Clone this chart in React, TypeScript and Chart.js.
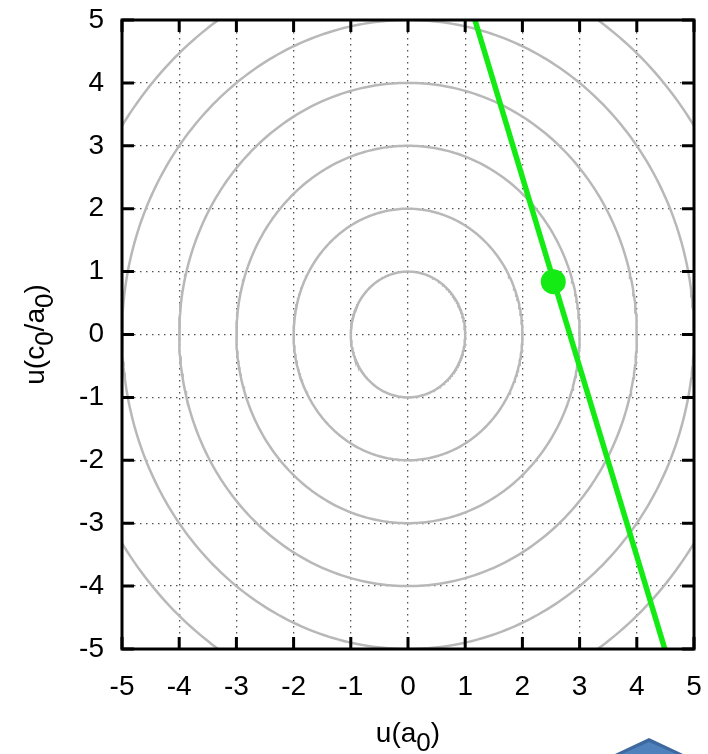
import React, { useEffect, useRef } from "react";
import { Chart, registerables } from "chart.js";

Chart.register(...registerables);

// ---- data ----
const tickValues = [-5, -4, -3, -2, -1, 0, 1, 2, 3, 4, 5];
const circleRadii = [1, 2, 3, 4, 5, 6];
const lineX = [1.17, 4.49];
const lineY = [5, -5];
const markerX = [2.54];
const markerY = [0.84];
const xTitleParts = [
  { t: "u(a", sub: false },
  { t: "0", sub: true },
  { t: ")", sub: false },
];
const yTitleParts = [
  { t: "u(c", sub: false },
  { t: "0", sub: true },
  { t: "/a", sub: false },
  { t: "0", sub: true },
  { t: ")", sub: false },
];

const FONT = "'Liberation Sans', Arial, Helvetica, sans-serif";

function circlePoints(r: number) {
  const pts: { x: number; y: number }[] = [];
  for (let i = 0; i <= 360; i += 1) {
    const t = (i * Math.PI) / 180;
    pts.push({ x: r * Math.cos(t), y: r * Math.sin(t) });
  }
  return pts;
}

function drawRich(ctx: CanvasRenderingContext2D, parts: { t: string; sub: boolean }[], cx: number, baseY: number) {
  const mainFont = `28px ${FONT}`;
  const subFont = `26px ${FONT}`;
  let total = 0;
  const widths = parts.map((p) => {
    ctx.font = p.sub ? subFont : mainFont;
    const w = ctx.measureText(p.t).width;
    total += w;
    return w;
  });
  let x = cx - total / 2;
  ctx.textAlign = "left";
  ctx.textBaseline = "alphabetic";
  ctx.fillStyle = "#000";
  parts.forEach((p, i) => {
    ctx.font = p.sub ? subFont : mainFont;
    ctx.fillText(p.t, x, p.sub ? baseY + 9 : baseY);
    x += widths[i];
  });
}

const framePlugin = {
  id: "frame",
  afterDatasetsDraw(chart: any) {
    const { ctx, chartArea, scales } = chart;
    const { left, right, top, bottom } = chartArea;
    ctx.save();
    ctx.strokeStyle = "#000";
    ctx.lineWidth = 3;
    ctx.lineCap = "butt";
    const tl = 12;
    tickValues.forEach((v) => {
      const px = scales.x.getPixelForValue(v);
      ctx.beginPath();
      ctx.moveTo(px, bottom);
      ctx.lineTo(px, bottom - tl);
      ctx.moveTo(px, top);
      ctx.lineTo(px, top + tl);
      ctx.stroke();
      const py = scales.y.getPixelForValue(v);
      ctx.beginPath();
      ctx.moveTo(left, py);
      ctx.lineTo(left + tl, py);
      ctx.moveTo(right, py);
      ctx.lineTo(right - tl, py);
      ctx.stroke();
    });
    ctx.strokeRect(left, top, right - left, bottom - top);
    ctx.restore();
  },
  afterDraw(chart: any) {
    const { ctx, chartArea } = chart;
    ctx.save();
    const cx = (chartArea.left + chartArea.right) / 2;
    drawRich(ctx, xTitleParts, cx, 742);
    ctx.translate(44, (chartArea.top + chartArea.bottom) / 2);
    ctx.rotate(-Math.PI / 2);
    drawRich(ctx, yTitleParts, 0, 0);
    ctx.restore();
  },
};

function zeroPad(s: any) {
  s.paddingTop = 0;
  s.paddingBottom = 0;
  s.paddingLeft = 0;
  s.paddingRight = 0;
}

export default function App() {
  const ref = useRef<HTMLCanvasElement | null>(null);

  useEffect(() => {
    if (!ref.current) return;
    const circleSets = circleRadii.map((r) => ({
      type: "line" as const,
      data: circlePoints(r),
      borderColor: "#b8b8b8",
      borderWidth: 2.5,
      pointRadius: 0,
      fill: false,
      tension: 0,
      order: 3,
    }));
    const chart = new Chart(ref.current, {
      type: "scatter",
      data: {
        datasets: [
          ...circleSets,
          {
            type: "line" as const,
            data: lineX.map((x, i) => ({ x, y: lineY[i] })),
            borderColor: "rgb(20,235,20)",
            borderWidth: 5.5,
            pointRadius: 0,
            fill: false,
            order: 2,
          },
          {
            type: "scatter" as const,
            data: markerX.map((x, i) => ({ x, y: markerY[i] })),
            backgroundColor: "rgb(20,235,20)",
            borderColor: "rgb(20,235,20)",
            borderWidth: 0,
            pointRadius: 12.5,
            order: 1,
          },
        ] as any,
      },
      options: {
        responsive: false,
        maintainAspectRatio: false,
        animation: false,
        layout: { padding: { top: 20, right: 14, left: 0, bottom: 0 } },
        plugins: {
          legend: { display: false },
          tooltip: { enabled: false },
        },
        scales: {
          x: {
            type: "linear",
            min: -5,
            max: 5,
            position: "bottom",
            afterFit: (s: any) => {
              s.height = 105;
              zeroPad(s);
            },
            afterBuildTicks: (s: any) => {
              s.ticks = tickValues.map((v) => ({ value: v }));
            },
            ticks: {
              stepSize: 1,
              padding: 21,
              color: "#000",
              font: { family: FONT, size: 28 },
              maxRotation: 0,
            },
            grid: { color: "#555", lineWidth: 1.3, drawTicks: false },
            border: { display: false, dash: [1.5, 4.5] },
          },
          y: {
            type: "linear",
            min: -5,
            max: 5,
            afterFit: (s: any) => {
              s.width = 122;
              zeroPad(s);
            },
            afterBuildTicks: (s: any) => {
              s.ticks = tickValues.map((v) => ({ value: v }));
            },
            ticks: {
              stepSize: 1,
              padding: 18,
              color: "#000",
              font: { family: FONT, size: 28 },
            },
            grid: { color: "#555", lineWidth: 1.3, drawTicks: false },
            border: { display: false, dash: [1.5, 4.5] },
          },
        },
      },
      plugins: [framePlugin],
    });
    return () => chart.destroy();
  }, []);

  return (
    <div style={{ position: "fixed", left: 0, top: 0, width: 708, height: 754, background: "#fff" }}>
      <canvas ref={ref} width={708} height={754} style={{ display: "block" }} />
      <svg
        width={708}
        height={754}
        style={{ position: "absolute", left: 0, top: 0, pointerEvents: "none" }}
      >
        <polygon points="615,754 649,738 683,754" fill="#3d68a0" />
        <polygon points="622,754 649,742 676,754" fill="#4f81bd" />
      </svg>
    </div>
  );
}
